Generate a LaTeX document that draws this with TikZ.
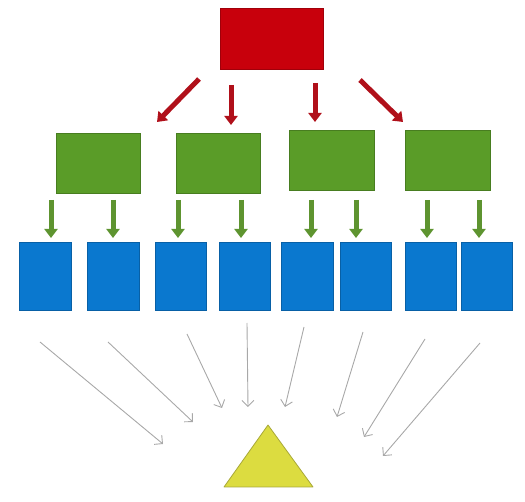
\documentclass[tikz,border=0pt]{standalone}
\usetikzlibrary{arrows.meta}
\definecolor{redbox}{HTML}{C8000C}
\definecolor{greenbox}{HTML}{5A9C28}
\definecolor{bluebox}{HTML}{0A78CF}
\definecolor{yellowtri}{HTML}{DCDC40}
\definecolor{yellowedge}{HTML}{A8A838}
\definecolor{redarrow}{HTML}{B0101A}
\definecolor{greenarrow}{HTML}{5E9430}
\definecolor{grayarrow}{HTML}{A8A8A8}
\tikzset{
  box/.style={draw=#1!80!black, line width=0.6pt, fill=#1, inner sep=0pt},
  redlink/.style={draw=redarrow, line width=5pt, -{Triangle[length=9pt,width=13pt]}},
  greenlink/.style={draw=greenarrow, line width=5pt, -{Triangle[length=9pt,width=13pt]}},
  graylink/.style={draw=grayarrow, line width=0.9pt, -{Straight Barb[length=6pt,width=12pt]}},
}
\begin{document}
\begin{tikzpicture}[x=1pt,y=-1pt]
\useasboundingbox (0,0) rectangle (525,502);
% top box
\node[box=redbox, minimum width=103pt, minimum height=61pt] (top) at (271.5,38.5) {};
% green boxes
\node[box=greenbox, minimum width=84pt, minimum height=60pt] (g1) at (98,163) {};
\node[box=greenbox, minimum width=84pt, minimum height=60pt] (g2) at (218,163) {};
\node[box=greenbox, minimum width=85pt, minimum height=60pt] (g3) at (331.5,160) {};
\node[box=greenbox, minimum width=85pt, minimum height=60pt] (g4) at (447.5,160) {};
% blue boxes
\foreach \n/\xa/\xb in {b1/19/71, b2/87/139, b3/155/206, b4/219/270, b5/281/333, b6/340/391, b7/405/456, b8/461/512}{
  \node[box=bluebox, minimum width=\xb-\xa, minimum height=68pt] (\n) at ({(\xa+\xb)/2},276) {};
}
% triangle
\coordinate (apex) at (268,425);
\coordinate (bl) at (224,487);
\coordinate (br) at (313,487);
\draw[draw=yellowedge, fill=yellowtri, line width=0.8pt, line join=round] (apex) -- (br) -- (bl) -- cycle;
% red arrows
\coordinate (r1s) at (199,79);  \coordinate (r1e) at (157,122);
\coordinate (r2s) at (231,85);  \coordinate (r2e) at (231,125);
\coordinate (r3s) at (315,83);  \coordinate (r3e) at (315,122);
\coordinate (r4s) at (360,80);  \coordinate (r4e) at (403,122);
\foreach \i in {1,...,4}{ \draw[redlink] (r\i s) -- (r\i e); }
% green arrows
\foreach \i/\x in {1/51, 2/113, 3/178, 4/241, 5/311, 6/356, 7/427, 8/479}{
  \coordinate (gs\i) at (\x,200);
  \coordinate (ge\i) at (\x,238);
  \draw[greenlink] (gs\i) -- (ge\i);
}
% gray arrows
\coordinate (s1) at (40,342);  \coordinate (e1) at (163,444);
\coordinate (s2) at (108,342); \coordinate (e2) at (193,422);
\coordinate (s3) at (187,334); \coordinate (e3) at (222,408);
\coordinate (s4) at (247,323); \coordinate (e4) at (248,407);
\coordinate (s5) at (304,327); \coordinate (e5) at (285,407);
\coordinate (s6) at (363,332); \coordinate (e6) at (337,417);
\coordinate (s7) at (425,339); \coordinate (e7) at (364,437);
\coordinate (s8) at (480,343); \coordinate (e8) at (383,456);
\foreach \i in {1,...,8}{ \draw[graylink] (s\i) -- (e\i); }
\end{tikzpicture}
\end{document}
